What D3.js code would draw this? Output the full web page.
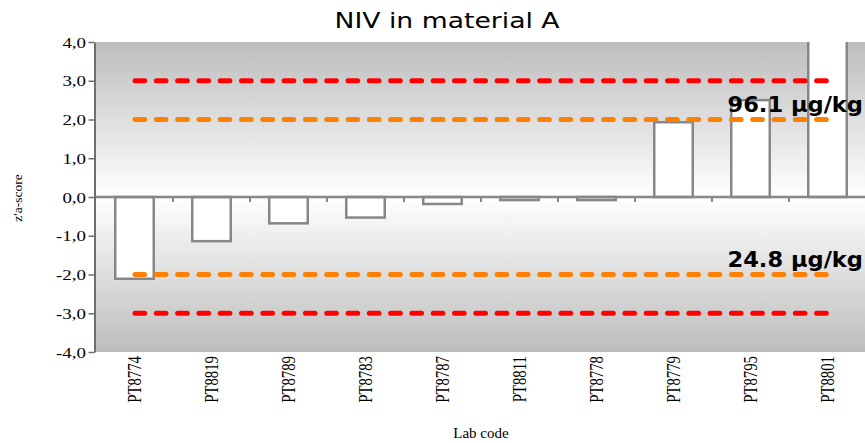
<!DOCTYPE html>
<html>
<head>
<meta charset="utf-8">
<script src="https://cdn.jsdelivr.net/npm/d3@7"></script>
<style>
  html, body { margin: 0; padding: 0; background: #ffffff; }
  svg { display: block; }
</style>
</head>
<body>
<svg id="chart" width="865" height="443"></svg>
<script>
// Lab codes and their z'a-scores
const labCodes = ["PT8774", "PT8819", "PT8789", "PT8783", "PT8787", "PT8811", "PT8778", "PT8779", "PT8795", "PT8801"];
const zScores = [-2.11, -1.14, -0.68, -0.53, -0.18, -0.08, -0.08, 1.93, 2.50, 5.40];

// Reference limits (z = ±2 warning, ±3 action)
const limitValues = [3, 2, -2, -3];
const limitColors = ["#ff0000", "#ff7f00", "#ff7f00", "#ff0000"];

// Concentration labels at the ±2 limits
const concLabels = ["96.1 µg/kg", "24.8 µg/kg"];
const concAt = [2, -2];

const yTicks = [-4, -3, -2, -1, 0, 1, 2, 3, 4];

const svg = d3.select("#chart");
const x0 = 96, x1 = 866, y0 = 42, y1 = 352;

const x = d3.scaleBand().domain(labCodes).range([x0, x1]).paddingInner(0).paddingOuter(0);
const y = d3.scaleLinear().domain([-4, 4]).range([y1, y0]);

const serif = "Liberation Serif, Times New Roman, serif";
const sans = "DejaVu Sans, Verdana, sans-serif";

// Plot background: grey at the edges fading to white in the middle
const defs = svg.append("defs");
const grad = defs.append("linearGradient").attr("id", "bg").attr("x1", 0).attr("y1", 0).attr("x2", 0).attr("y2", 1);
grad.append("stop").attr("offset", "0%").attr("stop-color", "#bdbdbd");
grad.append("stop").attr("offset", "50%").attr("stop-color", "#ffffff");
grad.append("stop").attr("offset", "100%").attr("stop-color", "#bdbdbd");
defs.append("clipPath").attr("id", "plotClip")
  .append("rect").attr("x", x0).attr("y", y0).attr("width", x1 - x0).attr("height", y1 - y0);

svg.append("rect").attr("x", x0).attr("y", y0).attr("width", x1 - x0).attr("height", y1 - y0)
  .attr("fill", "url(#bg)");

const plot = svg.append("g").attr("clip-path", "url(#plotClip)");

// Bars
const barW = x.bandwidth() * 0.5;
plot.selectAll("rect.bar").data(labCodes).join("rect")
  .attr("class", "bar")
  .attr("x", d => x(d) + (x.bandwidth() - barW) / 2)
  .attr("width", barW)
  .attr("y", (d, i) => y(Math.max(0, zScores[i])))
  .attr("height", (d, i) => Math.abs(y(zScores[i]) - y(0)))
  .attr("fill", "#ffffff")
  .attr("stroke", "#878787")
  .attr("stroke-width", 2.5);

// Zero line with category separators
svg.append("line").attr("x1", x0).attr("x2", x1).attr("y1", y(0)).attr("y2", y(0))
  .attr("stroke", "#878787").attr("stroke-width", 2.5);
svg.selectAll("line.sep").data(labCodes.slice(1)).join("line")
  .attr("class", "sep")
  .attr("x1", d => x(d)).attr("x2", d => x(d))
  .attr("y1", y(0)).attr("y2", y(0) + 5)
  .attr("stroke", "#878787").attr("stroke-width", 2);

// Dashed limit lines: 33 rounded dashes each
const dashLen = 9.7, dashPeriod = 21.3, dashCount = 33;
const lineStart = x(labCodes[0]) + x.bandwidth() / 2 + 0.5;
const lineEnd = lineStart + (dashCount - 1) * dashPeriod + dashLen;
svg.selectAll("line.limit").data(limitValues).join("line")
  .attr("class", "limit")
  .attr("x1", lineStart).attr("x2", lineEnd)
  .attr("y1", d => y(d)).attr("y2", d => y(d))
  .attr("stroke", (d, i) => limitColors[i])
  .attr("stroke-width", 5)
  .attr("stroke-linecap", "round")
  .attr("stroke-dasharray", `${dashLen},${dashPeriod - dashLen}`);

// Concentration labels
svg.selectAll("text.conc").data(concLabels).join("text")
  .attr("class", "conc")
  .attr("transform", (d, i) => `translate(863,${y(concAt[i]) - 8}) scale(1.1,1)`)
  .attr("text-anchor", "end")
  .attr("font-family", sans)
  .attr("font-weight", "bold")
  .attr("font-size", 20.5)
  .attr("fill", "#000000")
  .text(d => d);

// Y axis
const yAxis = d3.axisLeft(y).tickValues(yTicks).tickSize(6).tickSizeOuter(0)
  .tickFormat(d => d3.format(".1f")(d).replace(".", ",").replace("−", "-"));
const gy = svg.append("g").attr("transform", `translate(${x0 - 1.5},0)`).call(yAxis);
gy.select(".domain").attr("stroke", "#6e6e6e").attr("stroke-width", 2);
gy.selectAll(".tick line").attr("stroke", "#6e6e6e").attr("stroke-width", 1.5);
gy.selectAll(".tick text")
  .attr("font-family", serif)
  .attr("font-size", 14).attr("fill", "#000")
  .attr("x", 0).attr("dy", "0.36em")
  .attr("transform", "translate(-8.5,0) scale(1.35,1)");

// X tick labels, rotated
svg.selectAll("text.lab").data(labCodes).join("text")
  .attr("class", "lab")
  .attr("transform", d => `translate(${x(d) + x.bandwidth() / 2 + 6.5},${y1 + 4}) scale(1.27,1) rotate(-90)`)
  .attr("text-anchor", "end")
  .attr("font-family", serif)
  .attr("font-size", 14.8)
  .attr("fill", "#000")
  .text(d => d);

// Axis titles
svg.append("text")
  .attr("transform", `translate(22,198) rotate(-90)`)
  .attr("text-anchor", "middle")
  .attr("font-family", serif)
  .attr("font-size", 13.5)
  .text("z'a-score");

svg.append("text")
  .attr("x", 481).attr("y", 438)
  .attr("text-anchor", "middle")
  .attr("font-family", serif)
  .attr("font-size", 15)
  .text("Lab code");

// Title
svg.append("text")
  .attr("transform", "translate(447,28) scale(1.3,1)")
  .attr("text-anchor", "middle")
  .attr("font-family", sans)
  .attr("font-size", 20.5)
  .text("NIV in material A");
</script>
</body>
</html>
